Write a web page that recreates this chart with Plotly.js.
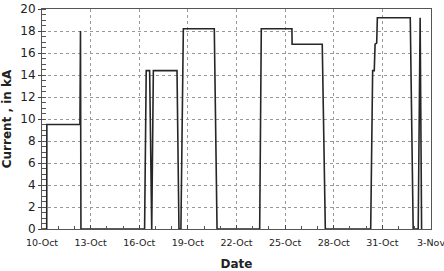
<!DOCTYPE html>
<html>
<head>
<meta charset="utf-8">
<script src="https://cdn.plot.ly/plotly-3.0.1.min.js"></script>
<style>html,body{margin:0;padding:0;background:#fff;}#chart{width:444px;height:271px;}</style>
</head>
<body>
<div id="chart"></div>
<script>
const dates = [
  "2010-10-10 00:00", "2010-10-10 07:00", "2010-10-10 07:12", "2010-10-12 08:10",
  "2010-10-12 09:00", "2010-10-12 09:40",
  "2010-10-16 07:55", "2010-10-16 10:19", "2010-10-16 15:22", "2010-10-16 18:29",
  "2010-10-16 20:53", "2010-10-18 07:55", "2010-10-18 10:48", "2010-10-18 13:41",
  "2010-10-18 17:17", "2010-10-20 15:07", "2010-10-20 19:12",
  "2010-10-23 10:19", "2010-10-23 12:43", "2010-10-25 10:05", "2010-10-25 10:20",
  "2010-10-27 06:58", "2010-10-27 11:31",
  "2010-10-30 06:43", "2010-10-30 09:36", "2010-10-30 12:00", "2010-10-30 13:12",
  "2010-10-30 15:36", "2010-10-30 16:34", "2010-11-01 17:17", "2010-11-01 21:36",
  "2010-11-02 05:02", "2010-11-02 07:55", "2010-11-02 10:05"
];
const current = [
  0, 0, 9.5, 9.5,
  18, 0,
  0, 14.4, 14.4, 0,
  14.4, 14.4, 0, 0,
  18.2, 18.2, 0,
  0, 18.2, 18.2, 16.8,
  16.8, 0,
  0, 14.4, 14.4, 16.8,
  16.9, 19.2, 19.2, 0,
  0, 19.2, 0
];
const xTitle = "Date";
const yTitle = "Current , in kA";

const trace = {
  x: dates, y: current, type: "scatter", mode: "lines",
  line: {color: "#262626", width: 1.6},
  hoverinfo: "skip"
};

const layout = {
  width: 444, height: 271,
  margin: {l: 42, r: 13, t: 9, b: 42},
  paper_bgcolor: "#fff", plot_bgcolor: "#fff",
  showlegend: false,
  font: {family: "DejaVu Sans, Verdana, sans-serif", color: "#222"},
  xaxis: {
    type: "date",
    range: ["2010-10-10", "2010-11-03"],
    tick0: "2010-10-10", dtick: 3 * 86400000,
    tickformat: "%-d-%b",
    tickfont: {size: 9.5, color: "#222"},
    ticklabeloverflow: "allow",
    ticklabelstandoff: 5,
    ticks: "inside", ticklen: 4, tickcolor: "#444",
    showgrid: true, gridcolor: "#999", griddash: "dot", gridwidth: 1,
    minor: {dtick: 86400000, ticks: "inside", ticklen: 3, tickcolor: "#555", showgrid: false},
    showline: true, linecolor: "#555", linewidth: 1, mirror: true,
    zeroline: false,
    title: {text: xTitle, font: {size: 12, color: "#222", weight: "bold"}, standoff: 12}
  },
  yaxis: {
    range: [0, 20],
    dtick: 2, tick0: 0,
    tickfont: {size: 12, color: "#222"},
    ticks: "outside", ticklen: 3, tickcolor: "#444",
    showgrid: true, gridcolor: "#999", griddash: "dot", gridwidth: 1,
    minor: {dtick: 0.5, ticks: "inside", ticklen: 4, tickcolor: "#555", showgrid: false},
    showline: true, linecolor: "#555", linewidth: 1, mirror: true,
    zeroline: false,
    title: {text: yTitle, font: {size: 12, color: "#222", weight: "bold"}, standoff: 6}
  }
};

Plotly.newPlot("chart", [trace], layout, {displayModeBar: false, staticPlot: true});
</script>
</body>
</html>
